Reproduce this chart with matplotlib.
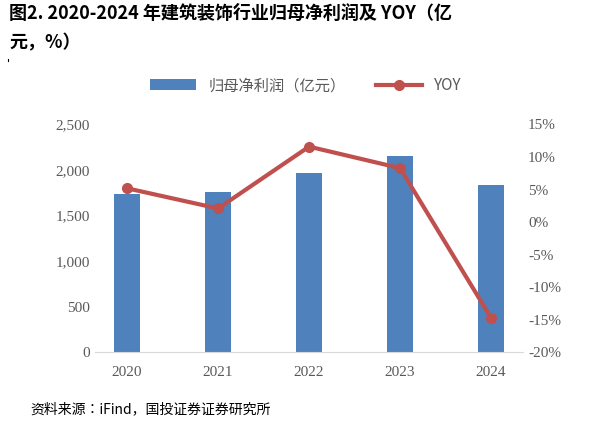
import matplotlib.pyplot as plt
from matplotlib import font_manager
from matplotlib.ticker import FuncFormatter

cjk_names = sorted({f.name for f in font_manager.fontManager.ttflist if 'CJK' in f.name})
cjk = cjk_names[0] if cjk_names else 'DejaVu Sans'
for n in cjk_names:
    if 'SC' in n:
        cjk = n
        break
plt.rcParams['font.family'] = ['Liberation Serif', cjk]

years = ['2020', '2021', '2022', '2023', '2024']
profit = [1736, 1758, 1965, 2150, 1834]
yoy = [5.2, 2.1, 11.6, 8.3, -14.7]

fig = plt.figure(figsize=(6.12, 4.22), dpi=100)
ax = fig.add_axes([0.155, 0.165, 0.70, 0.54])
ax2 = ax.twinx()

bars = ax.bar(years, profit, width=0.28, color='#4f81bd', label='归母净利润（亿元）')
line, = ax2.plot(years, yoy, color='#c0504d', lw=3, marker='o', ms=7, label='YOY')

ax.set_ylim(0, 2500)
ax.set_yticks(range(0, 2501, 500))
ax.yaxis.set_major_formatter(FuncFormatter(lambda v, p: f'{int(v):,}'))
ax2.set_ylim(-20, 15)
ax2.set_yticks(range(-20, 16, 5))
ax2.yaxis.set_major_formatter(FuncFormatter(lambda v, p: f'{int(v)}%'))

for a in (ax, ax2):
    for s in a.spines.values():
        s.set_visible(False)
    a.tick_params(length=0, labelsize=11, colors='#595959')
ax.spines['bottom'].set_visible(True)
ax.spines['bottom'].set_color('#d9d9d9')
ax.tick_params(axis='x', pad=10)

fig.legend(handles=[bars, line], loc='upper center', bbox_to_anchor=(0.5, 0.85),
           ncol=2, frameon=False, fontsize=11, labelcolor='#595959', handlelength=3,
           prop={'family': cjk, 'size': 11})

fig.text(0.015, 0.955, '图2. 2020-2024 年建筑装饰行业归母净利润及 YOY（亿', fontsize=13,
         fontweight='bold', family=cjk)
fig.text(0.015, 0.885, '元，%）', fontsize=13, fontweight='bold', family=cjk)
fig.add_artist(plt.Line2D([0.013, 0.013], [0.855, 0.86], color='k', lw=0.8))
fig.text(0.05, 0.02, '资料来源：iFind，国投证券证券研究所', fontsize=10, style='italic',
         family=cjk)

plt.savefig('out.png', dpi=100)
